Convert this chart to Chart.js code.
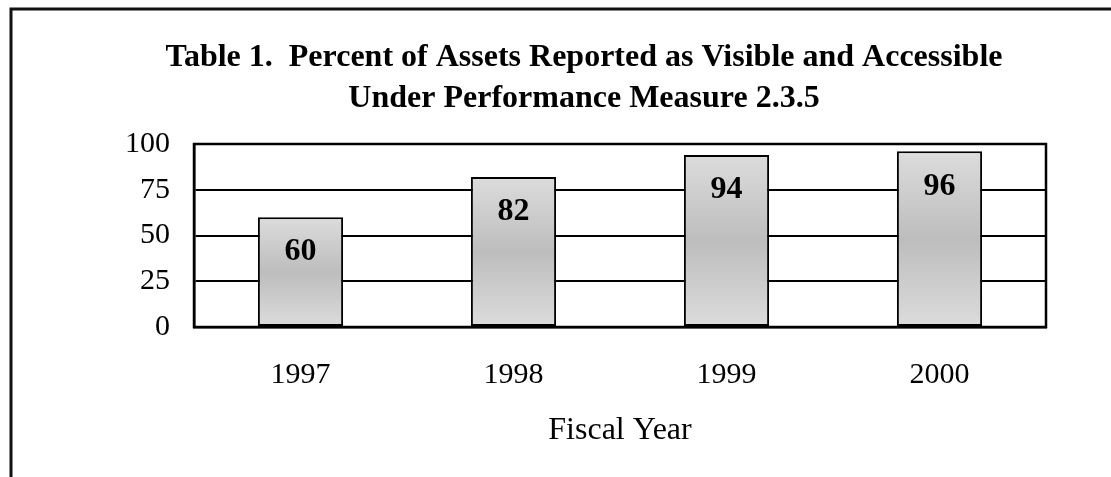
<!DOCTYPE html>
<html>
<head>
<meta charset="utf-8">
<script src="https://cdn.jsdelivr.net/npm/chart.js@4/dist/chart.umd.min.js"></script>
<style>
  html, body { margin: 0; padding: 0; background: #fff; }
  #wrap { width: 1111px; height: 477px; }
</style>
</head>
<body>
<div id="wrap"><canvas id="chart" width="1111" height="477"></canvas></div>
<script>
// ─── DATA ────────────────────────────────────────────────────
const fiscalYears = ['1997', '1998', '1999', '2000'];
const percentVisible = [60, 82, 94, 96];
const yTicks = [0, 25, 50, 75, 100];
const titleLines = [
    'Table 1.  Percent of Assets Reported as Visible and Accessible',
    'Under Performance Measure 2.3.5'
];
const xAxisTitle = 'Fiscal Year';

const SERIF = '"Liberation Serif", "Times New Roman", Times, serif';

// ─── PLUGINS ─────────────────────────────────────────────────
// page frame (left + top rule) and plot box
const framePlugin = {
    id: 'frame',
    beforeDraw(chart) {
        const ctx = chart.ctx;
        ctx.save();
        ctx.fillStyle = '#fff';
        ctx.fillRect(0, 0, chart.width, chart.height);
        ctx.strokeStyle = '#111';
        ctx.lineWidth = 3;
        ctx.beginPath();
        ctx.moveTo(11, chart.height);
        ctx.lineTo(11, 9);
        ctx.lineTo(chart.width, 9);
        ctx.stroke();
        ctx.restore();
    },
    beforeDatasetsDraw(chart) {
        const a = chart.chartArea, ctx = chart.ctx;
        ctx.save();
        ctx.strokeStyle = '#000';
        ctx.lineWidth = 2.5;
        ctx.strokeRect(a.left, a.top, a.right - a.left, a.bottom - a.top);
        ctx.restore();
    }
};

// value labels inside the top of each bar
const valueLabels = {
    id: 'valueLabels',
    afterDatasetsDraw(chart) {
        const ctx = chart.ctx;
        const meta = chart.getDatasetMeta(0);
        ctx.save();
        ctx.font = 'bold 32px ' + SERIF;
        ctx.fillStyle = '#000';
        ctx.textAlign = 'center';
        ctx.textBaseline = 'middle';
        meta.data.forEach((bar, i) => {
            ctx.fillText(String(percentVisible[i]), bar.x, bar.y + 35);
        });
        ctx.restore();
    }
};

// ─── CHART ───────────────────────────────────────────────────
function barGradient(c) {
    const chart = c.chart;
    if (!chart.chartArea || c.type !== 'data') return '#cccccc';
    const y = chart.scales.y;
    const top = y.getPixelForValue(c.raw);
    const base = y.getPixelForValue(0);
    const g = chart.ctx.createLinearGradient(0, top, 0, base);
    g.addColorStop(0, '#dcdcdc');
    g.addColorStop(0.5, '#bdbdbd');
    g.addColorStop(1, '#dcdcdc');
    return g;
}

new Chart(document.getElementById('chart'), {
    type: 'bar',
    data: {
        labels: fiscalYears,
        datasets: [{
            data: percentVisible,
            backgroundColor: barGradient,
            borderColor: '#000',
            borderWidth: 2,
            borderSkipped: false,
            barPercentage: 0.4,
            categoryPercentage: 1
        }]
    },
    options: {
        responsive: false,
        animation: false,
        layout: { padding: { left: 122, right: 65, top: 10, bottom: 0 } },
        plugins: {
            legend: { display: false },
            tooltip: { enabled: false },
            title: {
                display: true,
                text: titleLines,
                color: '#000',
                font: { family: SERIF, size: 32, weight: 'bold', lineHeight: '41px' },
                padding: { top: 27, bottom: 25 }
            }
        },
        scales: {
            x: {
                grid: { display: false },
                border: { display: true, color: '#000', width: 2.5 },
                ticks: { color: '#000', font: { family: SERIF, size: 30 }, padding: 22, maxRotation: 0 },
                title: {
                    display: true,
                    text: xAxisTitle,
                    color: '#000',
                    font: { family: SERIF, size: 32 },
                    padding: { top: 0, bottom: 27 }
                },
                afterFit(scale) { scale.height = 150; }
            },
            y: {
                min: 0,
                max: 100,
                afterBuildTicks(scale) { scale.ticks = yTicks.map(v => ({ value: v })); },
                grid: { color: '#000', lineWidth: 2, drawTicks: false },
                border: { display: true, color: '#000', width: 2.5 },
                ticks: { color: '#000', font: { family: SERIF, size: 30 }, padding: 24 },
                afterFit(scale) { scale.width = 72; }
            }
        }
    },
    plugins: [framePlugin, valueLabels]
});
</script>
</body>
</html>
